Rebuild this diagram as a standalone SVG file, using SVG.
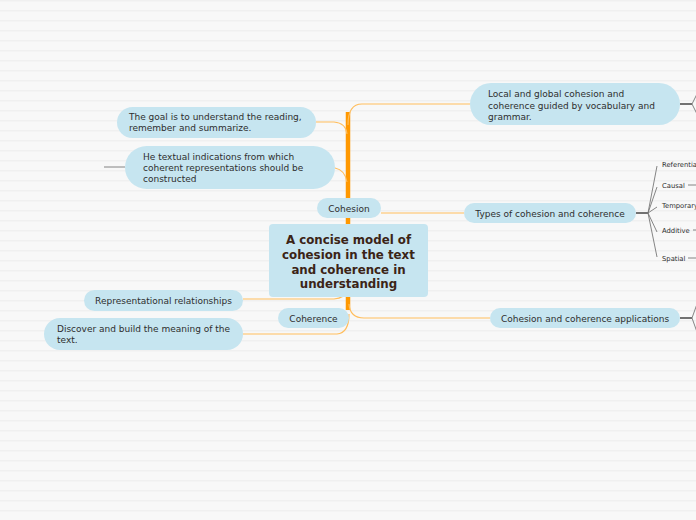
<svg xmlns="http://www.w3.org/2000/svg" width="696" height="520" viewBox="0 0 696 520">
<defs>
<pattern id="bg" width="696" height="10" patternUnits="userSpaceOnUse">
<rect width="696" height="10" fill="#f8f8f8"/>
<rect y="0" width="696" height="1.5" fill="#f0f0f0"/>
</pattern>
<style>
.node{fill:#c6e5f0}
.t{font-family:"DejaVu Sans",Verdana,sans-serif;font-size:9px;fill:#2e2e2e}
.s{font-family:"DejaVu Sans",Verdana,sans-serif;font-size:6.8px;fill:#2e2e2e}
.title{font-family:"DejaVu Sans",Verdana,sans-serif;font-size:11.8px;font-weight:bold;fill:#3b2416}
.br{fill:none;stroke:#ffbd5c;stroke-width:1.2}
.trunk{fill:none;stroke:#ff9800;stroke-width:4.5}
.dk{fill:none;stroke:#444;stroke-width:1.5}
.gr{fill:none;stroke:#777;stroke-width:0.9}
</style>
</defs>
<rect width="696" height="520" fill="url(#bg)"/>

<g id="connectors">
<path class="trunk" d="M348,112 L348,310"/>
<path class="br" d="M348,125 Q348,104 362,104 L470,104"/>
<path class="br" d="M316,122 L334,122 Q346,123 347,134"/>
<path class="br" d="M335,168 Q345,170 347,182"/>
<path class="br" d="M381,213 L464,213"/>
<path class="br" d="M243,299 L334,299 Q345,298 347,290"/>
<path class="br" d="M243,334 L337,334 Q349,333 349,314"/>
<path class="br" d="M349,304 Q350,318 364,318 L490,318"/>
<path class="gr" d="M104,167 L125,167"/>
<path class="dk" d="M680,104 L692,104"/>
<path class="gr" d="M692,104 L697,94 M692,104 L697,114"/>
<path class="dk" d="M636,213 L648,213"/>
<path class="gr" d="M648,213 L657,166 M648,213 L657,187 M648,213 L657,207 M648,213 L657,232 M648,213 L657,257"/>
<path class="gr" d="M688,185 L697,185 M693,230 L697,230 M688,258 L697,258"/>
<path class="dk" d="M680,318 L692,318"/>
<path class="gr" d="M692,318 L697,304 M692,318 L697,332"/>
</g>

<g id="central">
<rect x="269" y="224" width="159" height="73" rx="4" class="node"/>
<text class="title" text-anchor="middle" x="348.5" y="244">A concise model of</text>
<text class="title" text-anchor="middle" x="348.5" y="259">cohesion in the text</text>
<text class="title" text-anchor="middle" x="348.5" y="273.5">and coherence in</text>
<text class="title" text-anchor="middle" x="348.5" y="288">understanding</text>
</g>

<g id="cohesion">
<rect x="317" y="198" width="64" height="20" rx="10" class="node"/>
<text class="t" text-anchor="middle" x="349" y="211.5">Cohesion</text>
</g>

<g id="coherence">
<rect x="278" y="308" width="71" height="20" rx="10" class="node"/>
<text class="t" text-anchor="middle" x="313.5" y="321.5">Coherence</text>
</g>

<g id="local-global">
<rect x="470" y="83" width="210" height="42" rx="21" class="node"/>
<text class="t" x="488" y="97">Local and global cohesion and</text>
<text class="t" x="488" y="108.5">coherence guided by vocabulary and</text>
<text class="t" x="488" y="120">grammar.</text>
</g>

<g id="types">
<rect x="464" y="203" width="172" height="20" rx="10" class="node"/>
<text class="t" text-anchor="middle" x="550" y="216.5">Types of cohesion and coherence</text>
</g>

<g id="referential"><text class="s" x="662" y="166.5">Referential</text></g>
<g id="causal"><text class="s" x="662" y="187.5">Causal</text></g>
<g id="temporary"><text class="s" x="662" y="207.5">Temporary</text></g>
<g id="additive"><text class="s" x="662" y="232.5">Additive</text></g>
<g id="spatial"><text class="s" x="662" y="260.5">Spatial</text></g>

<g id="applications">
<rect x="490" y="308" width="190" height="20" rx="10" class="node"/>
<text class="t" text-anchor="middle" x="585" y="321.5">Cohesion and coherence applications</text>
</g>

<g id="goal">
<rect x="117" y="107" width="199" height="31" rx="15.5" class="node"/>
<text class="t" x="129" y="120">The goal is to understand the reading,</text>
<text class="t" x="129" y="131">remember and summarize.</text>
</g>

<g id="indications">
<rect x="125" y="146" width="210" height="43" rx="21.5" class="node"/>
<text class="t" x="143" y="160">He textual indications from which</text>
<text class="t" x="143" y="171">coherent representations should be</text>
<text class="t" x="143" y="182">constructed</text>
</g>

<g id="representational">
<rect x="84" y="290" width="159" height="21" rx="10.5" class="node"/>
<text class="t" text-anchor="middle" x="163.5" y="303.5">Representational relationships</text>
</g>

<g id="discover">
<rect x="44" y="318" width="199" height="32" rx="16" class="node"/>
<text class="t" x="57" y="332">Discover and build the meaning of the</text>
<text class="t" x="57" y="343">text.</text>
</g>
</svg>
